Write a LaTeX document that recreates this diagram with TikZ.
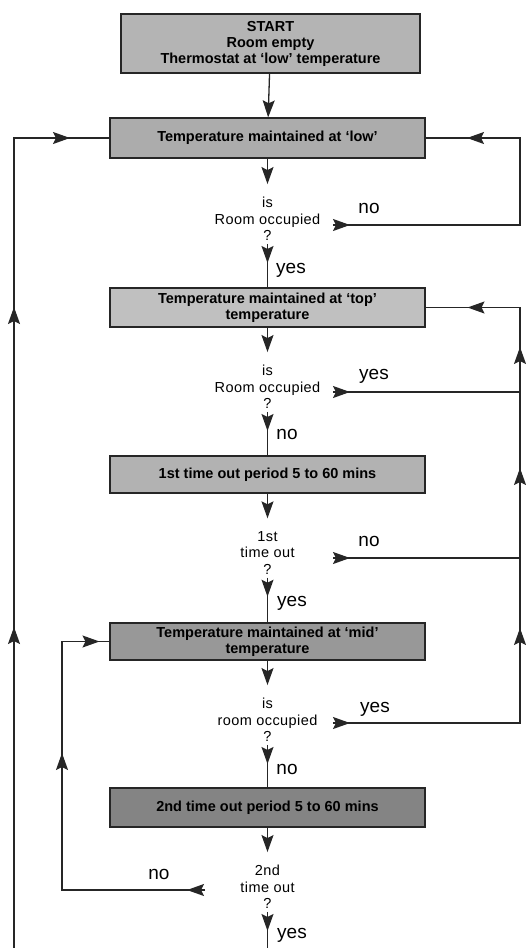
\documentclass[tikz,border=0pt]{standalone}
\usepackage{fontspec}
\setmainfont{Liberation Sans}
\newfontfamily\askfont[LetterSpace=3]{Liberation Sans}
\usetikzlibrary{arrows.meta,decorations.markings}

\definecolor{greyA}{RGB}{180,180,180}
\definecolor{greyB}{RGB}{172,172,172}
\definecolor{greyC}{RGB}{192,192,192}
\definecolor{greyD}{RGB}{178,178,178}
\definecolor{greyE}{RGB}{152,152,152}
\definecolor{greyF}{RGB}{132,132,132}

\tikzset{
  >={Stealth[length=17pt,width=12pt,inset=3pt]},
  stage/.style={draw=black!85, line width=1.3pt, minimum width=315pt, minimum height=39pt,
    align=center, inner sep=2pt, font=\fontsize{14.5}{16}\selectfont\bfseries},
  ask/.style={align=center, inner sep=3pt, font=\askfont\fontsize{14.5}{16.5}\selectfont},
  lab/.style={inner sep=0pt, font=\fontsize{19}{21}\selectfont},
  flow/.style={draw=black!85, line width=1.3pt},
  headat/.style={postaction={decorate,decoration={markings,mark=at position #1 with {\arrow{>}}}}}
}

\begin{document}
\begin{tikzpicture}[x=1pt,y=-1pt]
    \useasboundingbox (0,0) rectangle (526,948);

    % Stages
    \node[stage, fill=greyA, minimum width=299pt, minimum height=59pt] (start) at (270.5,43.5)
        {START\\Room empty\\Thermostat at ‘low’ temperature};
    \node[stage, fill=greyB, minimum height=40pt] (low) at (267.5,138) {Temperature maintained at ‘low’};
    \node[stage, fill=greyC] (top) at (267.5,307.5) {Temperature maintained at ‘top’\\temperature};
    \node[stage, fill=greyD, minimum height=37pt] (wait1) at (267.5,474.5) {1st time out period 5 to 60 mins};
    \node[stage, fill=greyE, minimum height=37pt] (mid) at (267.5,641.5) {Temperature maintained at ‘mid’\\temperature};
    \node[stage, fill=greyF] (wait2) at (267.5,807.5) {2nd time out period 5 to 60 mins};

    % Questions
    \node[ask] (d1) at (267.5,219) {is\\Room occupied\\?};
    \node[ask] (d2) at (267.5,387) {is\\Room occupied\\?};
    \node[ask] (d3) at (267.5,553) {1st\\time out\\?};
    \node[ask] (d4) at (267.5,720) {is\\room occupied\\?};
    \node[ask] (d5) at (267.5,887) {2nd\\time out\\?};

    % Answers
    \node[lab] (no1) at (369,208) {no};
    \node[lab] (yes1) at (291,270) {yes};
    \node[lab] (yes2) at (374,376) {yes};
    \node[lab] (no2) at (287,434) {no};
    \node[lab] (no3) at (369,541) {no};
    \node[lab] (yes3) at (292,603) {yes};
    \node[lab] (yes4) at (375,709) {yes};
    \node[lab] (no4) at (287,769) {no};
    \node[lab] (no5) at (159,874) {no};
    \node[lab] (yes5) at (292,935) {yes};

    % Rails and branch points
    \coordinate (railR) at (520,0);
    \coordinate (railL) at (62,0);
    \coordinate (loopL) at (14,948);
    \coordinate (exit) at (267.5,948);
    \coordinate (d1out) at (333,225);
    \coordinate (d2out) at (333,392);
    \coordinate (d3out) at (333,558);
    \coordinate (d4out) at (333,723);
    \coordinate (d5out) at (205,890);

    % Main line
    \draw[flow,->] (start) -- (low);
    \draw[flow,->,shorten >=10pt] (low.south) -- (d1.north);
    \draw[flow,headat=19pt] (d1.south) -- (top.north);
    \draw[flow,->,shorten >=10pt] (top.south) -- (d2.north);
    \draw[flow,headat=19pt] (d2.south) -- (wait1.north);
    \draw[flow,->,shorten >=10pt] (wait1.south) -- (d3.north);
    \draw[flow,headat=19pt] (d3.south) -- (mid.north);
    \draw[flow,->,shorten >=10pt] (mid.south) -- (d4.north);
    \draw[flow,headat=19pt] (d4.south) -- (wait2.north);
    \draw[flow,->,shorten >=10pt] (wait2.south) -- (d5.north);
    \draw[flow,headat=19pt] (d5.south) -- (exit);

    % Loops
    \draw[flow,headat=17pt,headat=327pt] (d1out) -- (d1out -| railR) |- (low.east);
    \draw[flow,headat=17pt] (d2out) -- (d2out -| railR);
    \draw[flow,headat=17pt] (d3out) -- (d3out -| railR);
    \draw[flow,headat=17pt,headat=282pt,headat=442pt,headat=563pt,headat=655pt]
        (d4out) -- (d4out -| railR) |- (top.east);
    \draw[flow,headat=18pt,headat=280pt,headat=429pt] (d5out) -- (d5out -| railL) |- (mid.west);
    \draw[flow,headat=321pt,headat=641pt,headat=866pt] (loopL) |- (low.west);
\end{tikzpicture}
\end{document}
